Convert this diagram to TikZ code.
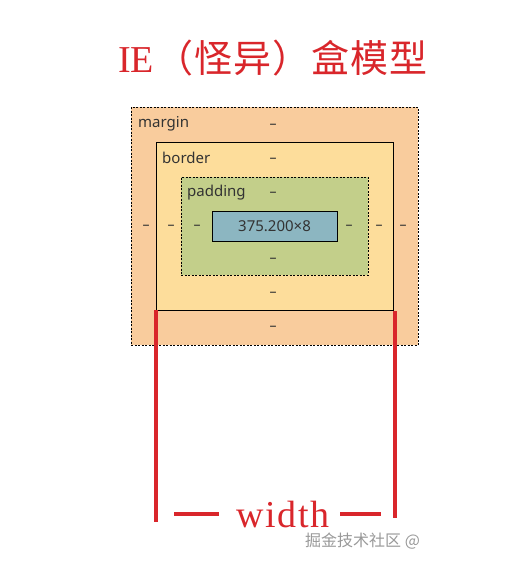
\documentclass[tikz,border=0pt]{standalone}
\usepackage{fontspec}
\setmainfont{Liberation Serif}
\newfontfamily\cjk{Noto Sans CJK SC}
\newfontfamily\lbl{Noto Sans}
\definecolor{redc}{HTML}{D9262B}
\definecolor{marginc}{HTML}{F9CC9D}
\definecolor{borderc}{HTML}{FDDD9B}
\definecolor{paddingc}{HTML}{C3CF8A}
\definecolor{contentc}{HTML}{8CB6C1}
\definecolor{txt}{HTML}{333333}
\begin{document}
\begin{tikzpicture}[x=1pt,y=-1pt,
  boxbase/.style={anchor=north west,inner sep=0pt,outer sep=0pt,line width=0.8pt},
  dashedbox/.style={boxbase,draw=black,dash pattern=on 2pt off 1.5pt},
  solidbox/.style={boxbase,draw=black},
  lab/.style={font=\lbl\fontsize{15}{17}\selectfont,text=txt,inner sep=0pt},
  dsh/.style={font=\lbl\fontsize{14}{16}\selectfont,text=txt,inner sep=0pt},
  redline/.style={draw=redc,line width=4pt}]
\useasboundingbox (0,0) rectangle (522,566);
\fill[white] (0,0) rectangle (522,566);
% title
\node[text=redc,inner sep=0pt] (title) at (273,58) {\fontsize{38}{42}\selectfont IE\hspace{1pt}{\cjk\addfontfeature{LetterSpace=3}（怪异）盒模型}};
% boxes
\node[dashedbox,fill=marginc,minimum width=287pt,minimum height=238pt] (margin) at (131,107) {};
\node[solidbox,fill=borderc,minimum width=237pt,minimum height=168pt] (border) at (156,142) {};
\node[dashedbox,fill=paddingc,minimum width=187pt,minimum height=98pt] (padding) at (181,177) {};
\node[solidbox,fill=contentc,minimum width=125pt,minimum height=30pt] (content) at (212,211) {};
% labels
\node[lab,anchor=west] (lm) at (138,124) {margin};
\node[lab,anchor=west] (lb) at (162,158) {border};
\node[lab,anchor=west] (lp) at (187,193) {padding};
\node[lab] (lc) at (content.center) {375.200×8};
% dashes
\node[dsh] (mt) at (273,126) {–};
\node[dsh] (bt) at (273,160) {–};
\node[dsh] (pt) at (273,194) {–};
\node[dsh] (ml) at (146,227) {–};
\node[dsh] (bl) at (171,227) {–};
\node[dsh] (pl) at (197,227) {–};
\node[dsh] (pr) at (349,227) {–};
\node[dsh] (br) at (379,227) {–};
\node[dsh] (mr) at (403,227) {–};
\node[dsh] (pb) at (273,260) {–};
\node[dsh] (bb) at (273,294) {–};
\node[dsh] (mb) at (273,328) {–};
% width indicator
\coordinate (lt) at (156,310);
\coordinate (lbt) at (156,522);
\coordinate (rt) at (395,311);
\coordinate (rbt) at (395,518);
\coordinate (h1a) at (174,514);
\coordinate (h1b) at (219,514);
\coordinate (h2a) at (340,514);
\coordinate (h2b) at (381,514);
\draw[redline] (lt) -- (lbt);
\draw[redline] (rt) -- (rbt);
\draw[redline] (h1a) -- (h1b);
\draw[redline] (h2a) -- (h2b);
\node[text=redc,inner sep=0pt,anchor=base] (w) at (283,527) {\fontsize{38}{40}\selectfont\addfontfeature{LetterSpace=4}width};
% watermark
\node[anchor=west,inner sep=0pt,text=gray!80] (wm) at (305,541) {\cjk\fontsize{16}{18}\selectfont 掘金技术社区 @};
\end{tikzpicture}
\end{document}
